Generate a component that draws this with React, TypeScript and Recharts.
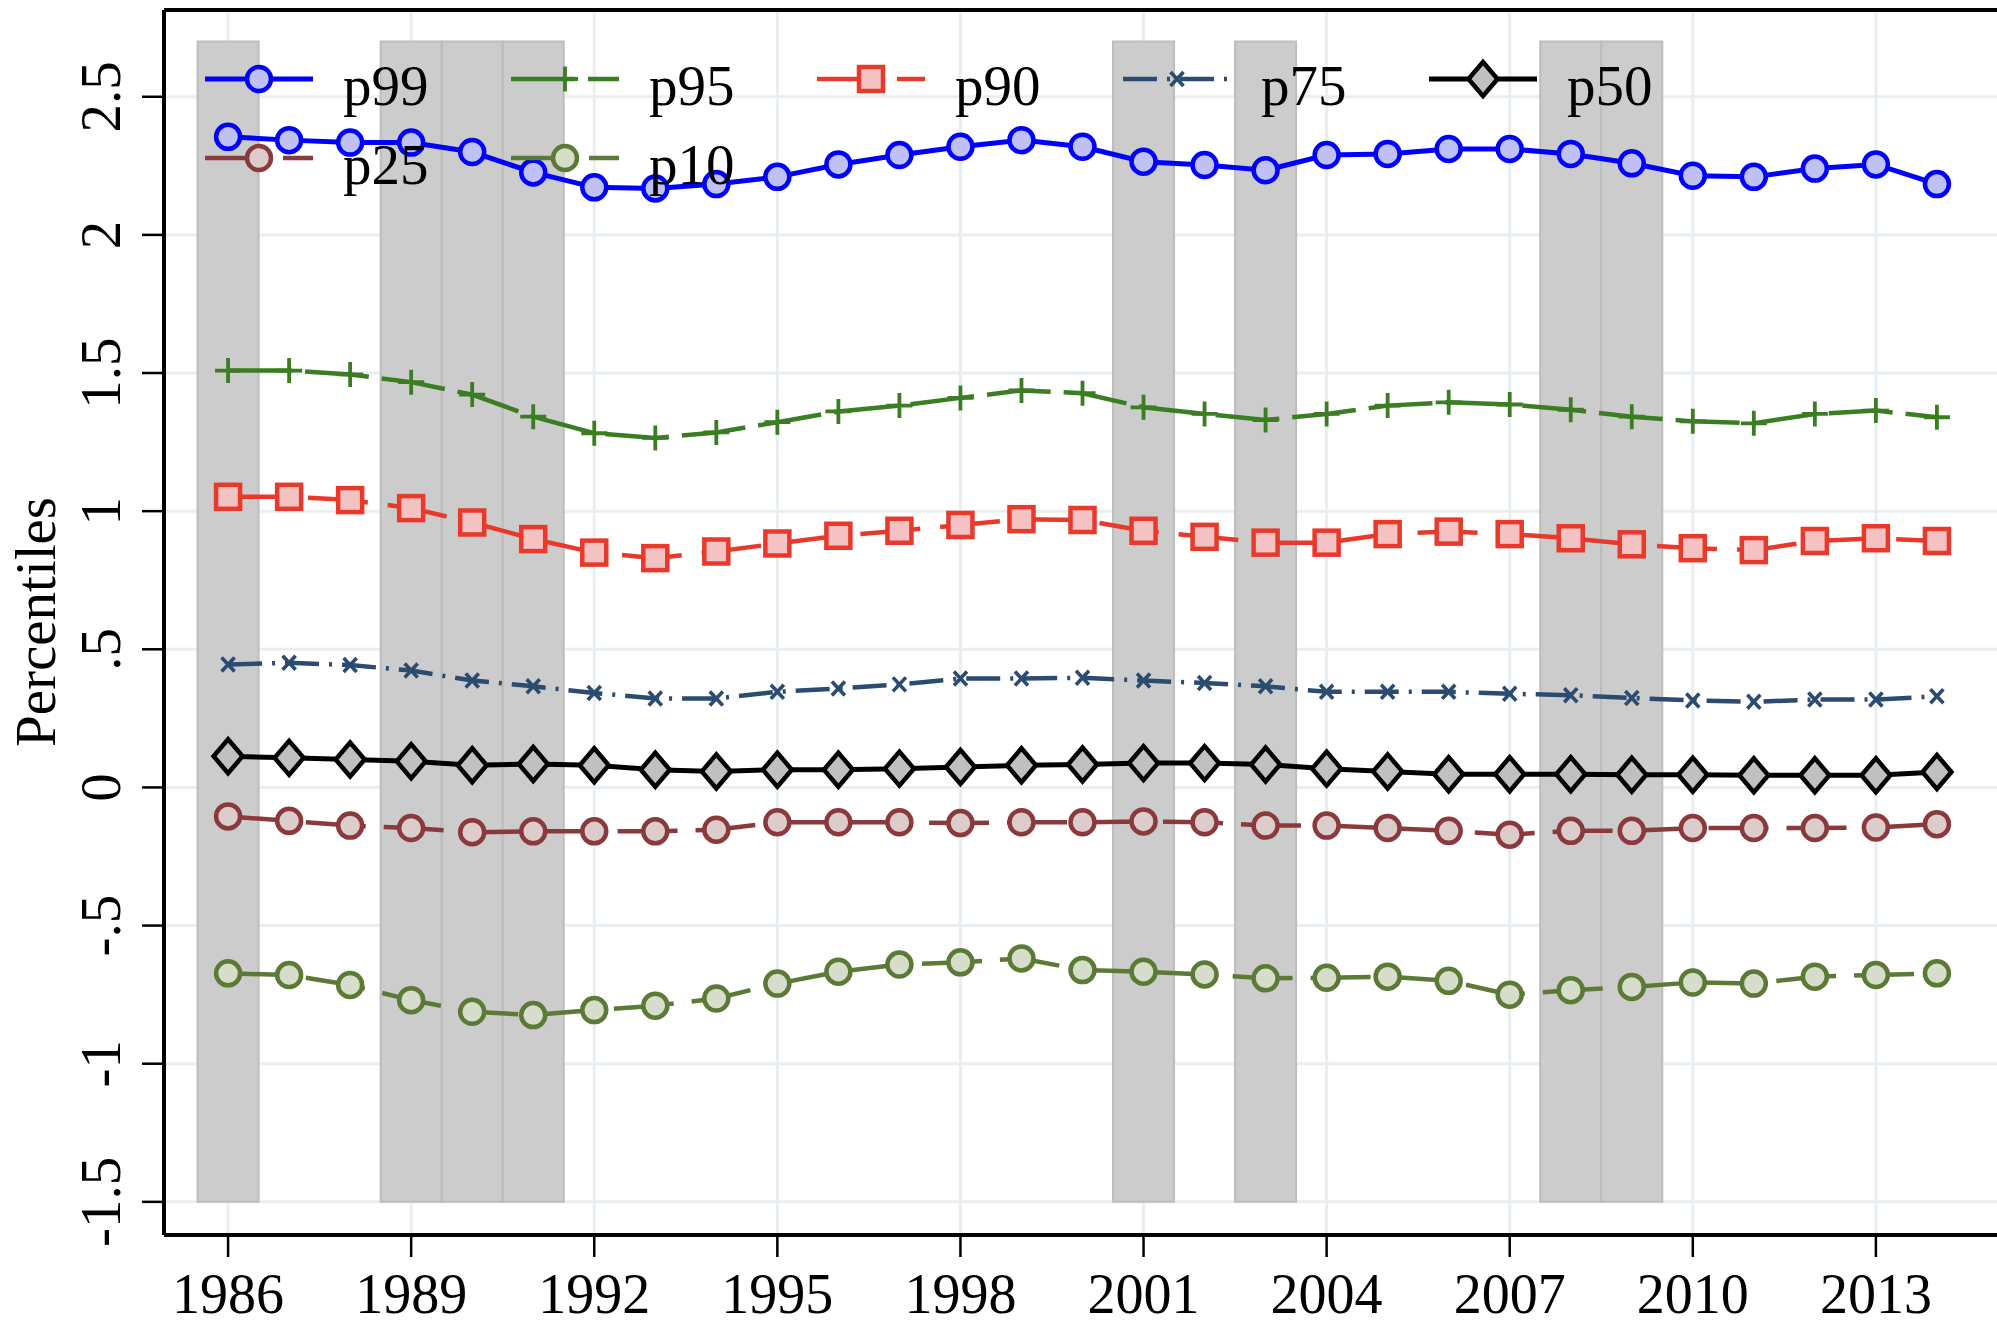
import React from 'react';
import { LineChart, Line, XAxis, YAxis, CartesianGrid, ReferenceArea, ReferenceLine } from 'recharts';

// ---------- data ----------
const years = [1986, 1987, 1988, 1989, 1990, 1991, 1992, 1993, 1994, 1995, 1996, 1997, 1998, 1999, 2000,
  2001, 2002, 2003, 2004, 2005, 2006, 2007, 2008, 2009, 2010, 2011, 2012, 2013, 2014];

const p99 = [2.355, 2.343, 2.334, 2.334, 2.300, 2.226, 2.172, 2.168, 2.184, 2.210, 2.255, 2.289, 2.319, 2.343, 2.319,
  2.265, 2.253, 2.234, 2.289, 2.293, 2.311, 2.311, 2.293, 2.259, 2.214, 2.210, 2.240, 2.255, 2.184];
const p95 = [1.509, 1.509, 1.495, 1.467, 1.422, 1.342, 1.282, 1.265, 1.285, 1.322, 1.361, 1.382, 1.410, 1.437, 1.427,
  1.376, 1.352, 1.330, 1.352, 1.382, 1.394, 1.386, 1.367, 1.342, 1.325, 1.318, 1.352, 1.364, 1.340];
const p90 = [1.052, 1.052, 1.040, 1.011, 0.959, 0.899, 0.850, 0.830, 0.854, 0.883, 0.911, 0.929, 0.950, 0.971, 0.968,
  0.929, 0.907, 0.886, 0.886, 0.917, 0.926, 0.917, 0.902, 0.880, 0.866, 0.859, 0.892, 0.902, 0.892];
const p75 = [0.445, 0.451, 0.443, 0.423, 0.387, 0.366, 0.342, 0.322, 0.322, 0.346, 0.358, 0.373, 0.394, 0.394, 0.397,
  0.387, 0.378, 0.366, 0.346, 0.346, 0.346, 0.339, 0.334, 0.324, 0.315, 0.310, 0.318, 0.318, 0.330];
const p50 = [0.113, 0.107, 0.101, 0.095, 0.080, 0.085, 0.080, 0.064, 0.058, 0.064, 0.064, 0.068, 0.074, 0.080, 0.083,
  0.088, 0.088, 0.083, 0.068, 0.058, 0.048, 0.048, 0.048, 0.046, 0.046, 0.044, 0.044, 0.044, 0.056];
const p25 = [-0.105, -0.121, -0.138, -0.147, -0.162, -0.159, -0.159, -0.159, -0.153, -0.126, -0.126, -0.126, -0.129, -0.126, -0.126,
  -0.123, -0.126, -0.138, -0.138, -0.147, -0.157, -0.171, -0.157, -0.157, -0.147, -0.147, -0.147, -0.145, -0.133];
const p10 = [-0.673, -0.679, -0.715, -0.770, -0.812, -0.824, -0.806, -0.790, -0.764, -0.710, -0.667, -0.641, -0.633, -0.619, -0.661,
  -0.667, -0.677, -0.691, -0.689, -0.685, -0.700, -0.750, -0.734, -0.722, -0.706, -0.710, -0.685, -0.679, -0.673];

const recessionYears = [1986, 1989, 1990, 1991, 2001, 2003, 2008, 2009];
const bandBottom = -1.5;
const bandTop = 2.7;

const xTicks = [1986, 1989, 1992, 1995, 1998, 2001, 2004, 2007, 2010, 2013];
const yTicks = [-1.5, -1, -0.5, 0, 0.5, 1, 1.5, 2, 2.5];
const yTickLabels = ['-1.5', '-1', '-.5', '0', '.5', '1', '1.5', '2', '2.5'];
const seriesNames = ['p99', 'p95', 'p90', 'p75', 'p50', 'p25', 'p10'];
const yAxisTitle = 'Percentiles';

const seriesValues: Record<string, number[]> = { p99, p95, p90, p75, p50, p25, p10 };

const data = years.map((yr, i) => {
  const row: Record<string, number> = { year: yr };
  seriesNames.forEach((n) => { row[n] = seriesValues[n][i]; });
  return row;
});

// ---------- styles ----------
const FONT = "'Liberation Serif', 'Times New Roman', Times, serif";
const FS = 57;

type Style = { color: string; fill: string; dash?: string; shape: string; width: number };
const styles: Record<string, Style> = {
  p99: { color: '#0000ff', fill: '#bfc1f5', shape: 'circle', width: 5 },
  p95: { color: '#3a7d22', fill: 'none', dash: '64 13', shape: 'plus', width: 4.5 },
  p90: { color: '#e8392b', fill: '#f4c2c2', dash: '60 20', shape: 'square', width: 4.5 },
  p75: { color: '#2b4b70', fill: 'none', dash: '34 10 3 10', shape: 'x', width: 4.5 },
  p50: { color: '#000000', fill: '#c0c0c0', shape: 'diamond', width: 5 },
  p25: { color: '#8a3a3c', fill: '#ddcccc', dash: '60 18', shape: 'circle', width: 4.5 },
  p10: { color: '#5b7a35', fill: '#d6decb', dash: '60 18', shape: 'circle', width: 4.5 },
};

function marker(shape: string, cx: number, cy: number, color: string, fill: string, key?: string) {
  switch (shape) {
    case 'circle':
      return <circle key={key} cx={cx} cy={cy} r={12} fill={fill} stroke={color} strokeWidth={4.5} />;
    case 'square':
      return <rect key={key} x={cx - 12} y={cy - 12} width={24} height={24} fill={fill} stroke={color} strokeWidth={4.5} />;
    case 'diamond':
      return (
        <polygon key={key}
          points={`${cx},${cy - 17} ${cx + 14.5},${cy} ${cx},${cy + 17} ${cx - 14.5},${cy}`}
          fill={fill} stroke={color} strokeWidth={4.5} strokeLinejoin="miter" />
      );
    case 'plus':
      return (
        <path key={key} d={`M${cx - 13},${cy}H${cx + 13}M${cx},${cy - 12.5}V${cy + 12.5}`}
          stroke={color} strokeWidth={3.8} fill="none" />
      );
    case 'x':
      return (
        <path key={key} d={`M${cx - 6.5},${cy - 7}L${cx + 6.5},${cy + 7}M${cx + 6.5},${cy - 7}L${cx - 6.5},${cy + 7}`}
          stroke={color} strokeWidth={3.6} fill="none" />
      );
    default:
      return null;
  }
}

const makeDot = (name: string) => (props: any) => {
  const { cx, cy, index } = props;
  const s = styles[name];
  if (cx == null || cy == null) return <g key={`${name}-${index}`} />;
  return marker(s.shape, cx, cy, s.color, s.fill, `${name}-${index}`);
};

// ---------- layout ----------
const CHART_W = 2001;
const CHART_H = 1325;
const Y_AXIS_W = 164;
const X_AXIS_H = 90;
const TOP = 10;
const X_DOMAIN: [number, number] = [1984.95, 2015.05];
const Y_DOMAIN: [number, number] = [-1.62, 2.814];

const XTick = (props: any) => {
  const { x, payload } = props;
  return (
    <text x={x} y={1313} textAnchor="middle" fontFamily={FONT} fontSize={56} fill="#000">
      {payload.value}
    </text>
  );
};

const YTick = (props: any) => {
  const { y, payload } = props;
  const idx = yTicks.indexOf(payload.value);
  const label = idx >= 0 ? yTickLabels[idx] : String(payload.value);
  return (
    <text transform={`translate(120,${y}) rotate(-90)`} textAnchor="middle" fontFamily={FONT} fontSize={FS} fill="#000">
      {label}
    </text>
  );
};

const YTitle = () => (
  <text transform={`translate(55,622) rotate(-90)`} textAnchor="middle" fontFamily={FONT} fontSize={FS} fill="#000">
    {yAxisTitle}
  </text>
);

const LegendOverlay = () => {
  const items = seriesNames.map((n, i) => {
    const col = i % 5;
    const row = Math.floor(i / 5);
    const x0 = 205 + col * 306;
    const ly = 79 + row * 79;
    const s = styles[n];
    return (
      <g key={n}>
        <line x1={x0} y1={ly} x2={x0 + 108} y2={ly} stroke={s.color} strokeWidth={s.width}
          strokeDasharray={s.dash} />
        {marker(s.shape, x0 + 54, ly, s.color, s.fill)}
        <text x={x0 + 138} y={ly + 26} fontFamily={FONT} fontSize={FS} fill="#000">{n}</text>
      </g>
    );
  });
  return (
    <svg width={1997} height={230} style={{ position: 'absolute', left: 0, top: 0, pointerEvents: 'none' }}>
      {items}
    </svg>
  );
};

export default function App() {
  return (
    <div style={{ position: 'absolute', left: 0, top: 0, width: 1997, height: 1325, overflow: 'hidden', background: '#fff' }}>
      <LineChart width={CHART_W} height={CHART_H} data={data} margin={{ top: TOP, right: 0, bottom: 0, left: 0 }}>
        <CartesianGrid stroke="#e8eef1" strokeWidth={3} />
        <XAxis dataKey="year" type="number" domain={X_DOMAIN} ticks={xTicks} interval={0}
          allowDataOverflow height={X_AXIS_H}
          axisLine={{ stroke: '#000', strokeWidth: 4 }} tickLine={{ stroke: '#000', strokeWidth: 2.5 }}
          tickSize={22} tick={<XTick />} />
        <YAxis type="number" domain={Y_DOMAIN} ticks={yTicks} interval={0} allowDataOverflow width={Y_AXIS_W}
          axisLine={{ stroke: '#000', strokeWidth: 4 }} tickLine={{ stroke: '#000', strokeWidth: 2.5 }}
          tickSize={22} tick={<YTick />} label={<YTitle />} />
        {recessionYears.map((yr) => (
          <ReferenceArea key={yr} x1={yr - 0.5} x2={yr + 0.5} y1={bandBottom} y2={bandTop}
            fill="#cccccc" fillOpacity={1} stroke="#bdbdbd" strokeWidth={2} ifOverflow="visible" />
        ))}
        <ReferenceLine y={Y_DOMAIN[1]} stroke="#000" strokeWidth={4} ifOverflow="visible" />
        {seriesNames.slice().reverse().map((n) => {
          const s = styles[n];
          return (
            <Line key={n} dataKey={n} type="linear" stroke={s.color} strokeWidth={s.width}
              strokeDasharray={s.dash} dot={makeDot(n)} activeDot={false} isAnimationActive={false} />
          );
        })}
      </LineChart>
      <LegendOverlay />
    </div>
  );
}
